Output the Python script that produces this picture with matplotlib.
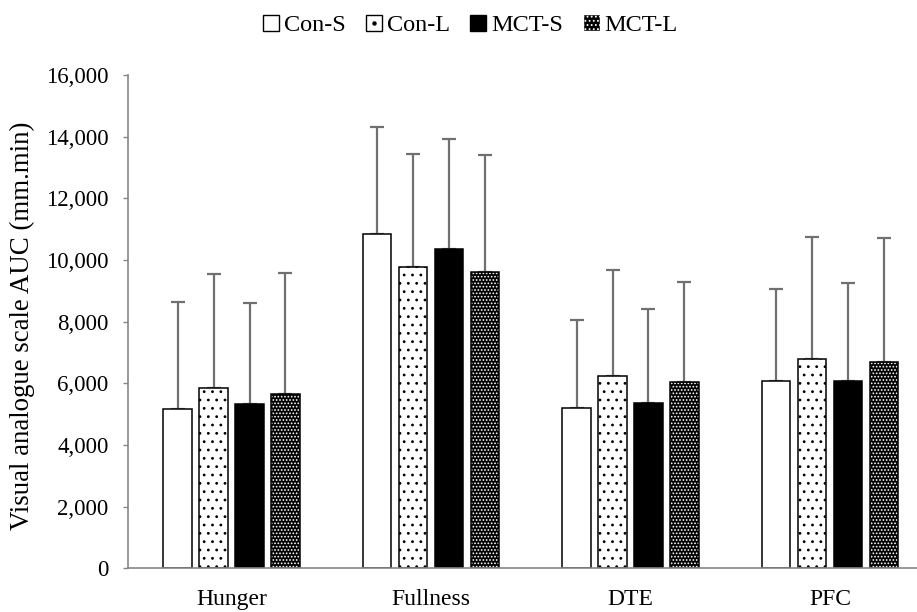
import matplotlib
matplotlib.use("Agg")
import matplotlib.pyplot as plt
import numpy as np
from matplotlib.patches import Patch
from matplotlib.lines import Line2D
from matplotlib.legend_handler import HandlerTuple

categories = ["Hunger", "Fullness", "DTE", "PFC"]
series = ["Con-S", "Con-L", "MCT-S", "MCT-L"]
means = {
    "Con-S": [5172, 10850, 5186, 6061],
    "Con-L": [5840, 9760, 6243, 6794],
    "MCT-S": [5322, 10343, 5358, 6071],
    "MCT-L": [5658, 9609, 6029, 6697],
}
upper = {
    "Con-S": [8625, 14326, 8058, 9053],
    "Con-L": [9555, 13441, 9679, 10729],
    "MCT-S": [8593, 13927, 8395, 9258],
    "MCT-L": [9587, 13409, 9270, 10697],
}
yticks = [0, 2000, 4000, 6000, 8000, 10000, 12000, 14000, 16000]

plt.rcParams['font.family'] = ['Liberation Serif', 'DejaVu Serif']
plt.rcParams['hatch.linewidth'] = 0.8

fig = plt.figure(figsize=(9.17, 6.12), dpi=100)
ax = fig.add_axes([0.1396, 0.0714, 0.8604, 0.8061])

x = np.arange(len(categories))
pitch = 0.18
width = 0.143
err_color = "#707070"
for i, s in enumerate(series):
    xs = x + (i - 1.5) * pitch
    m = np.array(means[s])
    err = np.array(upper[s]) - m
    if s == "Con-S":
        ax.bar(xs, m, width, color="white", edgecolor="black", linewidth=1.1, zorder=2)
    elif s == "Con-L":
        ax.bar(xs, m, width, color="white", edgecolor="black", hatch="..", linewidth=1.1, zorder=2)
    elif s == "MCT-S":
        ax.bar(xs, m, width, color="black", edgecolor="black", linewidth=1.1, zorder=2)
    else:
        ax.bar(xs, m, width, color="black", edgecolor="white", hatch=".....", linewidth=0, zorder=2)
        ax.bar(xs, m, width, fill=False, edgecolor="black", linewidth=1.1, zorder=2.1)
    ax.errorbar(xs, m, yerr=[np.zeros_like(err), err], fmt="none", ecolor=err_color,
                elinewidth=1.6, capsize=5, capthick=1.6, zorder=1)

ax.set_ylim(0, 16000)
ax.set_xlim(-0.519, 3.436)
ax.set_yticks(yticks)
ax.set_yticklabels([f"{v:,}" for v in yticks], fontsize=16.5)
ax.set_xticks(x)
ax.set_xticklabels(categories, fontsize=17)
ax.tick_params(axis="x", length=0, pad=15)
ax.tick_params(axis="y", length=3.6, color="#868686", width=1, pad=10.5)
for sp in ["top", "right"]:
    ax.spines[sp].set_visible(False)
for sp in ["left", "bottom"]:
    ax.spines[sp].set_color("#868686")
    ax.spines[sp].set_linewidth(1.2)
fig.text(22 / 917, 1 - 326 / 612, "Visual analogue scale AUC (mm.min)", fontsize=19.4,
         rotation=90, ha="center", va="center")

ms = 11.5
h_cons = Line2D([], [], marker="s", markersize=ms, mfc="white", mec="black", mew=1.0, linestyle="none")
h_conl = (Line2D([], [], marker="s", markersize=ms, mfc="white", mec="black", mew=1.0, linestyle="none"),
          Line2D([], [], marker="o", markersize=2.2, mfc="black", mec="black", linestyle="none"))
h_mcts = Line2D([], [], marker="s", markersize=ms, mfc="black", mec="black", mew=1.0, linestyle="none")
h_mctl = Patch(facecolor="black", edgecolor="white", hatch="....")
fig.legend([h_cons, h_conl, h_mcts, h_mctl], series, loc="center",
           bbox_to_anchor=(470 / 917, 1 - 25 / 612), ncol=4, frameon=False,
           fontsize=17.5, handlelength=0.7, handleheight=0.7, handletextpad=0.2,
           columnspacing=0.8, borderpad=0, borderaxespad=0,
           handler_map={tuple: HandlerTuple(ndivide=1)})

fig.savefig("out.png", dpi=100)
